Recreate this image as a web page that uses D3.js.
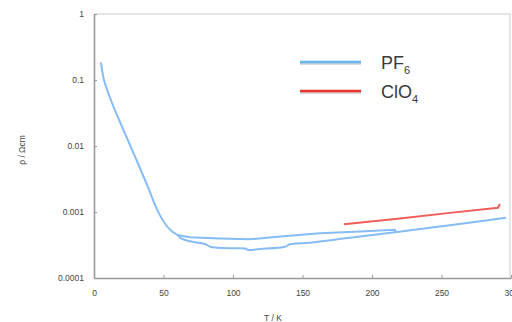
<!DOCTYPE html>
<html>
<head>
<meta charset="utf-8">
<script src="https://cdn.jsdelivr.net/npm/d3@7"></script>
<style>
  body { margin: 0; background: #fff; }
  svg { display: block; font-family: "Liberation Sans", Arial, sans-serif; }
</style>
</head>
<body>
<div id="chart"></div>
<script>
// PF6, cooling run (lower branch + low-T upturn), T in K, rho in Ohm cm
const pf6_cool_T   = [5, 7.2, 12.7, 18.7, 25.9, 32.4, 39.1, 45.8, 51.8, 56, 59.9, 63, 69, 79.9, 83.5, 87, 97.8, 108.6, 110.8, 119.4, 137.4, 141, 155.4, 184, 216.5, 256, 296.4];
const pf6_cool_rho = [0.185, 0.1, 0.0464, 0.0231, 0.01035, 0.00498, 0.00231, 0.00104, 0.000635, 0.00051, 0.000449, 0.000395, 0.00036, 0.000327, 0.000298, 0.00029, 0.000282, 0.00028, 0.000266, 0.000275, 0.000298, 0.000324, 0.000343, 0.000407, 0.000492, 0.00063, 0.00082];
// PF6, warming run (upper branch)
const pf6_warm_T   = [59.9, 64, 69, 90.6, 112, 134, 162.6, 191.4, 216.5, 217.3];
const pf6_warm_rho = [0.000449, 0.000432, 0.000414, 0.000398, 0.000386, 0.000426, 0.000475, 0.000507, 0.000537, 0.000492];
// ClO4
const clo4_T   = [179.9, 220, 256, 290.6, 292];
const clo4_rho = [0.00065, 0.0008, 0.00097, 0.00116, 0.00132];

const x_ticks = [0, 50, 100, 150, 200, 250, 300];
const y_ticks = [0.0001, 0.001, 0.01, 0.1, 1];
const y_tick_labels = ["0.0001", "0.001", "0.01", "0.1", "1"];

const W = 512, H = 322;
const m = { left: 94, right: 511, top: 14, bottom: 278 };

const svg = d3.select("#chart").append("svg").attr("width", W).attr("height", H);

const x = d3.scaleLinear().domain([0, 300]).range([m.left, m.right]);
const y = d3.scaleLog().domain([0.0001, 1]).range([m.bottom, m.top]);

// frame (light top / right)
svg.append("line").attr("x1", m.left).attr("x2", m.right).attr("y1", m.top).attr("y2", m.top)
  .attr("stroke", "#dcdcdc").attr("stroke-width", 1.5);
svg.append("line").attr("x1", m.right - 1).attr("x2", m.right - 1).attr("y1", m.top).attr("y2", m.bottom)
  .attr("stroke", "#dcdcdc").attr("stroke-width", 1.5);

// x axis
const xAxis = svg.append("g")
  .attr("transform", `translate(0, ${m.bottom})`)
  .call(d3.axisBottom(x).tickValues(x_ticks).tickSizeInner(-3).tickSizeOuter(0).tickPadding(12));
// y axis
const yAxis = svg.append("g")
  .attr("transform", `translate(${m.left}, 0)`)
  .call(d3.axisLeft(y).tickValues(y_ticks).tickFormat((d, i) => y_tick_labels[i])
    .tickSizeInner(-3).tickSizeOuter(0).tickPadding(10));

[xAxis, yAxis].forEach((g) => {
  g.select(".domain").attr("stroke", "#9a9a9a").attr("stroke-width", 1.6);
  g.selectAll(".tick line").attr("stroke", "#9a9a9a");
  g.selectAll(".tick text").attr("fill", "#444").style("font-size", "8.5px");
});

// axis titles
svg.append("text").attr("x", 273).attr("y", 321).attr("text-anchor", "middle")
  .attr("fill", "#444").style("font-size", "8.5px").text("T / K");
svg.append("text").attr("transform", "translate(25, 150) rotate(-90)").attr("text-anchor", "middle")
  .attr("fill", "#444").style("font-size", "8.5px").text("ρ / Ωcm");

// series
const line = d3.line().x((d) => x(d[0])).y((d) => y(d[1]));
const zip = (a, b) => a.map((v, i) => [v, b[i]]);

const blue = "#86bdf6", red = "#ee5d5a";
svg.append("path").datum(zip(pf6_cool_T, pf6_cool_rho))
  .attr("d", line.curve(d3.curveCatmullRom.alpha(0.5)))
  .attr("fill", "none").attr("stroke", blue).attr("stroke-width", 2);
svg.append("path").datum(zip(pf6_warm_T, pf6_warm_rho)).attr("d", line.curve(d3.curveLinear))
  .attr("fill", "none").attr("stroke", blue).attr("stroke-width", 2);
svg.append("path").datum(zip(clo4_T, clo4_rho)).attr("d", line)
  .attr("fill", "none").attr("stroke", red).attr("stroke-width", 2);

// legend
const legend = svg.append("g");
const items = [
  { base: "PF", sub: "6", color: "#63b8f0", y: 62 },
  { base: "ClO", sub: "4", color: "#f0332b", y: 91 },
];
items.forEach((it) => {
  legend.append("line").attr("x1", 300).attr("x2", 361).attr("y1", it.y + 1.5).attr("y2", it.y + 1.5)
    .attr("stroke", "#cfcfcf").attr("stroke-width", 2.5);
  legend.append("line").attr("x1", 300).attr("x2", 361).attr("y1", it.y).attr("y2", it.y)
    .attr("stroke", it.color).attr("stroke-width", 2.5);
  const t = legend.append("text").attr("x", 381).attr("y", it.y + 7)
    .attr("fill", "#3a3a3a").style("font-size", "18px").text(it.base);
  t.append("tspan").attr("dy", 5).style("font-size", "11px").text(it.sub);
});
</script>
</body>
</html>
